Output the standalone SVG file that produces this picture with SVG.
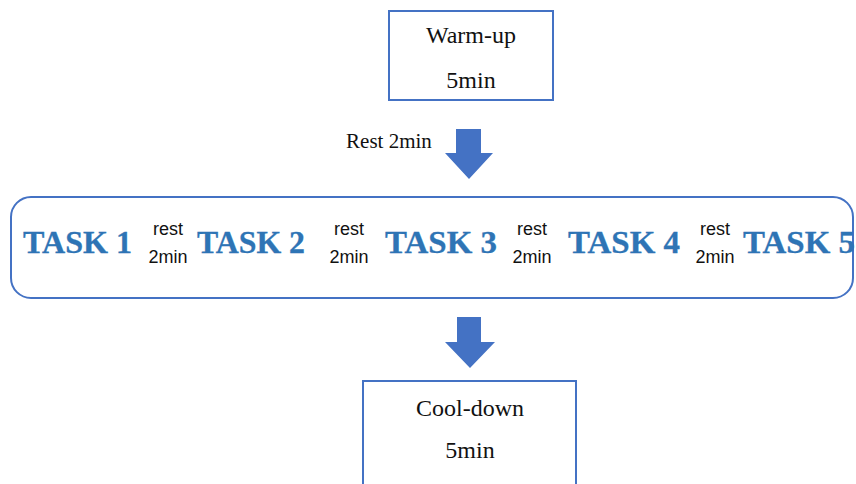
<svg xmlns="http://www.w3.org/2000/svg" width="856" height="484" viewBox="0 0 856 484">
<defs>
<style>
.box{fill:#fff;stroke:#4472C4;stroke-width:2}
.serif{font-family:"Liberation Serif","Times New Roman",serif;font-size:24px;fill:#111;text-anchor:middle}
.task{font-family:"Liberation Serif","DejaVu Serif",serif;font-weight:bold;font-size:31px;fill:#2E74B5;stroke:#2E74B5;stroke-width:0.3}
.rest{font-family:"Liberation Sans",Arial,sans-serif;font-size:18px;fill:#111;text-anchor:middle}
.arrow{fill:#4472C4}
</style>
</defs>
<rect width="856" height="484" fill="#fff"/>
<g id="warmup">
<rect class="box" x="389" y="11" width="164" height="89"/>
<text class="serif" x="471" y="43">Warm-up</text>
<text class="serif" x="471" y="88">5min</text>
</g>
<g id="tasks">
<rect class="box" x="11" y="197" width="842" height="101" rx="20" ry="20"/>
<text class="task" x="23" y="253" textLength="109" lengthAdjust="spacingAndGlyphs">TASK 1</text>
<text class="task" x="197" y="253" textLength="108" lengthAdjust="spacingAndGlyphs">TASK 2</text>
<text class="task" x="385" y="253" textLength="112" lengthAdjust="spacingAndGlyphs">TASK 3</text>
<text class="task" x="568" y="253" textLength="112" lengthAdjust="spacingAndGlyphs">TASK 4</text>
<text class="task" x="743" y="253" textLength="112" lengthAdjust="spacingAndGlyphs">TASK 5</text>
<text class="rest" x="168" y="235">rest</text>
<text class="rest" x="168" y="263">2min</text>
<text class="rest" x="349" y="235">rest</text>
<text class="rest" x="349" y="263">2min</text>
<text class="rest" x="532" y="235">rest</text>
<text class="rest" x="532" y="263">2min</text>
<text class="rest" x="715" y="235">rest</text>
<text class="rest" x="715" y="263">2min</text>
</g>
<g id="cooldown">
<rect class="box" x="363" y="381" width="213" height="115"/>
<text class="serif" x="470" y="416">Cool-down</text>
<text class="serif" x="470" y="458">5min</text>
</g>
<g id="connectors">
<polygon class="arrow" points="456,129 481,129 481,153 493,153 469,179 445,153 456,153"/>
<text class="serif" x="389" y="148" style="font-size:21px">Rest 2min</text>
<polygon class="arrow" points="457,317 481,317 481,342 495,342 470,368 445,342 457,342"/>
</g>
</svg>
